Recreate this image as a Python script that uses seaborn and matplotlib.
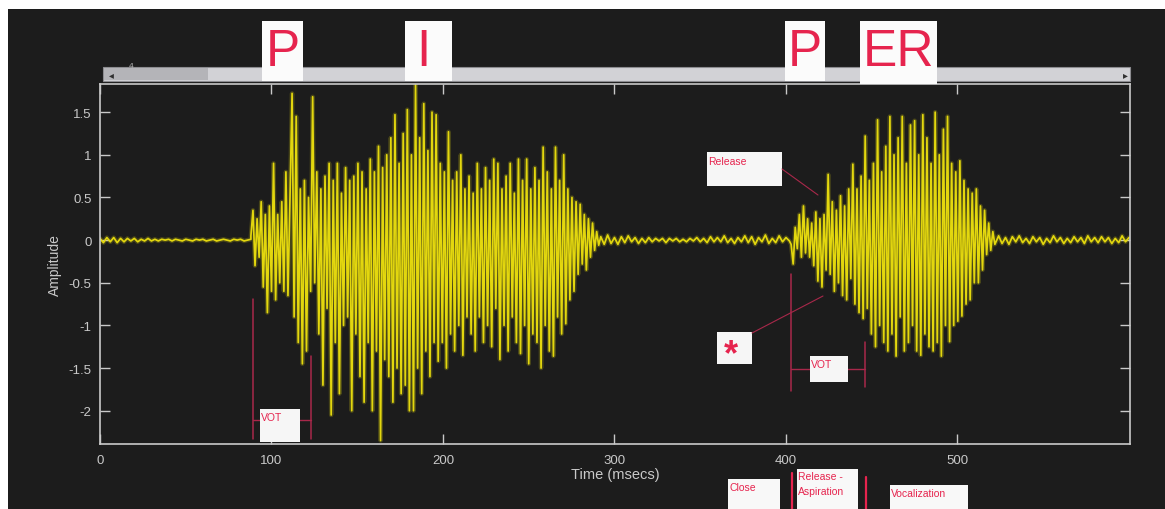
import numpy as np
import pandas as pd
import matplotlib
matplotlib.use("Agg")
import matplotlib.pyplot as plt
from matplotlib.patches import Rectangle
from matplotlib.lines import Line2D
import seaborn as sns

# ---------------- data ----------------
quiet1_start, quiet1_step = 0.0, 2.0
quiet1_amp = [0.02, -0.03, 0.03, -0.02, 0.03, -0.03, 0.02, -0.02, 0.02, -0.01,
              0.02, -0.02, 0.01, -0.01, 0.02, -0.01, 0.01, -0.01, 0.01, 0.0,
              0.01, -0.01, 0.01, 0.0, -0.01, 0.01, 0.0, -0.01, 0.01, 0.0,
              0.01, -0.01, 0.0, 0.01, -0.01, 0.0, 0.01, 0.0, -0.01, 0.01,
              0.0, 0.01, -0.01, 0.0, 0.01]

voiced1_start, voiced1_step = 88.0, 1.2
voiced1_amp = [0.05, 0.35, -0.3, 0.25, -0.2, 0.45, -0.55, 0.3, -0.85, 0.4,
               -0.6, 0.9, -0.7, 0.3, -0.5, 0.45, -0.6, 0.8, -0.65, 0.5,
               1.72, -0.9, 1.45, -1.2, 0.6, -1.45, 0.7, -1.3, 0.5, -0.6,
               1.68, -0.5, 0.8, -1.1, 0.6, -1.7, 0.75, -0.8, 0.9, -2.05,
               0.7, -1.2, 0.9, -1.8, 0.55, -1.0, 0.85, -0.9, 0.7, -2.0,
               0.75, -1.1, 0.9, -1.6, 0.8, -1.9, 0.6, -1.2, 0.95, -2.0,
               0.8, -1.3, 1.1, -2.35, 0.85, -1.4, 1.0, -1.6, 1.2, -1.9,
               1.47, -1.5, 0.9, -1.8, 1.25, -1.7, 1.53, -2.0, 1.0, -2.0,
               1.82, -1.5, 1.2, -1.8, 1.6, -1.3, 1.05, -1.6, 1.5, -1.2,
               1.47, -1.42, 0.9, -1.2, 0.8, -1.5, 1.27, -1.1, 0.7, -1.3,
               0.8, -1.0, 1.0, -1.35, 0.6, -0.9, 0.75, -1.1, 0.55, -1.3,
               0.9, -0.9, 0.6, -1.2, 0.85, -1.0, 0.7, -1.25, 0.95, -0.8,
               0.9, -1.4, 0.6, -1.0, 0.75, -1.3, 0.9, -0.9, 0.55, -1.2,
               0.95, -1.33, 0.7, -1.0, 0.95, -1.45, 0.6, -1.1, 0.85, -1.2,
               0.7, -1.5, 1.09, -1.0, 0.8, -1.3, 0.6, -1.36, 1.09, -0.9,
               0.7, -1.1, 1.0, -0.98, 0.6, -0.7, 0.5, -0.6, 0.45, -0.4,
               0.42, -0.28, 0.3, -0.35, 0.25, -0.2, 0.2, -0.12, 0.1, -0.06]

quiet2_start, quiet2_step = 292.0, 2.0
quiet2_amp = [0.04, -0.05, 0.06, -0.04, 0.03, -0.05, 0.04, -0.03, 0.05, -0.02,
              0.03, -0.04, 0.02, -0.03, 0.03, -0.02, 0.02, -0.01, 0.02, -0.03,
              0.02, -0.01, 0.02, -0.02, 0.01, -0.02, 0.02, -0.01, 0.03, -0.02,
              0.02, -0.03, 0.04, -0.02, 0.03, -0.02, 0.05, -0.03, 0.02, -0.04,
              0.03, -0.02, 0.05, -0.03, 0.04, -0.05, 0.03, -0.02, 0.06, -0.04,
              0.02, -0.03, 0.05, -0.02, 0.03, -0.01]

voiced2_start, voiced2_step = 403.0, 1.2
voiced2_amp = [-0.05, -0.28, 0.15, -0.1, 0.3, -0.2, 0.4, -0.15, 0.25, -0.2,
               0.2, -0.3, 0.33, -0.48, 0.25, -0.55, 0.3, -0.35, 0.77, -0.4,
               0.45, -0.6, 0.35, -0.5, 0.52, -0.65, 0.4, -0.7, 0.6, -0.45,
               0.89, -0.75, 0.6, -0.85, 0.75, -0.92, 1.22, -0.8, 0.7, -1.1,
               0.9, -1.25, 1.41, -1.0, 0.8, -1.2, 1.1, -1.3, 1.45, -1.1,
               1.0, -1.36, 1.2, -0.9, 1.45, -1.3, 0.9, -1.2, 1.35, -1.0,
               1.4, -1.3, 1.0, -1.35, 1.47, -1.1, 1.2, -1.25, 0.9, -1.3,
               1.5, -1.2, 1.0, -1.36, 1.3, -1.0, 1.45, -1.19, 0.9, -1.0,
               0.8, -0.95, 0.93, -0.89, 0.7, -0.75, 0.6, -0.7, 0.55, -0.5,
               0.6, -0.5, 0.4, -0.35, 0.35, -0.17, 0.2, -0.12, 0.1, -0.05]

quiet3_start, quiet3_step = 524.0, 2.0
quiet3_amp = [0.05, -0.04, 0.03, -0.05, 0.04, -0.02, 0.05, -0.03, 0.02, -0.04,
              0.04, -0.02, 0.03, -0.05, 0.02, -0.03, 0.05, -0.02, 0.03, -0.04,
              0.02, -0.03, 0.04, -0.02, 0.03, -0.04, 0.05, -0.02, 0.03, -0.03,
              0.04, -0.02, 0.03, -0.04, 0.02, -0.03, 0.05, -0.02, 0.03]

x_ticks = [0, 100, 200, 300, 400, 500]
x_tick_labels = ["0", "100", "200", "300", "400", "500"]
y_ticks = [-2, -1.5, -1, -0.5, 0, 0.5, 1, 1.5]
y_tick_labels = ["-2", "-1.5", "-1", "-0.5", "0", "0.5", "1", "1.5"]
syllables = ["P", "I", "P", "ER"]

# ---------------- build the waveform table ----------------
segments = [(quiet1_start, quiet1_step, quiet1_amp),
            (voiced1_start, voiced1_step, voiced1_amp),
            (quiet2_start, quiet2_step, quiet2_amp),
            (voiced2_start, voiced2_step, voiced2_amp),
            (quiet3_start, quiet3_step, quiet3_amp)]
t_all, a_all = [], []
for start, step, amps in segments:
    t_all.extend(start + step * np.arange(len(amps)))
    a_all.extend(amps)
df = pd.DataFrame({"time": t_all, "amp": a_all})

# ---------------- figure ----------------
W, H = 1165, 510
BG = "#1c1c1c"
FG = "#c9c9c9"
RED = "#e6244e"
YEL = "#e3d70e"

sns.set_theme(style="dark")
plt.rcParams["font.family"] = ["Liberation Sans", "DejaVu Sans"]

fig = plt.figure(figsize=(W / 100, H / 100), dpi=100, facecolor="white")


def fx(x):
    return x / W


def fy(y):
    return 1 - y / H


def px_rect(x0, y0, x1, y1, **kw):
    r = Rectangle((fx(x0), fy(y1)), (x1 - x0) / W, (y1 - y0) / H,
                  transform=fig.transFigure, **kw)
    fig.add_artist(r)


def px_line(xs, ys, **kw):
    fig.add_artist(Line2D([fx(x) for x in xs], [fy(y) for y in ys],
                          transform=fig.transFigure, **kw))


def px_text(x, y, s, **kw):
    fig.text(fx(x), fy(y), s, **kw)


# dark scanned background
px_rect(8, 10, W + 2, H + 2, facecolor=BG, edgecolor="none", zorder=-10)

ax = fig.add_axes([fx(100), fy(445), (1130 - 100) / W, (445 - 85) / H])
ax.set_facecolor(BG)

# soft glow underneath, then the crisp trace
sns.lineplot(data=df, x="time", y="amp", ax=ax, color=YEL, linewidth=3.2,
             alpha=0.22, estimator=None, sort=False)
sns.lineplot(data=df, x="time", y="amp", ax=ax, color=YEL, linewidth=1.25,
             estimator=None, sort=False)

ax.set_xlim(0, 600.6)
ax.set_ylim(-2.39, 1.83)
ax.set_xticks(x_ticks)
ax.set_xticklabels(x_tick_labels)
ax.set_yticks(y_ticks)
ax.set_yticklabels(y_tick_labels)
ax.tick_params(axis="both", direction="in", length=7, width=1.0, color=FG,
               labelcolor=FG, labelsize=9.5, top=True, right=True,
               bottom=True, left=True)
ax.tick_params(axis="x", pad=7)
ax.tick_params(axis="y", pad=6)
for sp in ax.spines.values():
    sp.set_visible(True)
    sp.set_color(FG)
    sp.set_linewidth(1.2)
ax.grid(False)
ax.set_xlabel("Time (msecs)", color=FG, fontsize=10.5, labelpad=1)
ax.set_ylabel("Amplitude", color=FG, fontsize=10, labelpad=5)

# scroll bar above the axes
px_rect(103, 68, 1130, 82, facecolor="#d2d2d6", edgecolor="#8c8c90",
        linewidth=0.8, zorder=3)
px_rect(104, 69, 208, 81, facecolor="#b4b4b8", edgecolor="none", zorder=3)
px_text(111, 75, "◂", color="#303030", fontsize=7, ha="center", va="center",
        zorder=4, family=["DejaVu Sans"])
px_text(1125, 75, "▸", color="#303030", fontsize=7, ha="center", va="center",
        zorder=4, family=["DejaVu Sans"])
px_text(131, 66, "4", color="#b0b0b0", fontsize=6, ha="center", va="center",
        zorder=4)

# syllable labels
syl_boxes = [(262, 22, 303, 82, 283), (405, 22, 452, 82, 423),
             (785, 22, 825, 82, 805), (860, 22, 937, 85, 898)]
for s, (x0, y0, x1, y1, xc) in zip(syllables, syl_boxes):
    px_rect(x0, y0, x1, y1, facecolor="#fbfbfb", edgecolor="none", zorder=5)
    px_text(xc, 52, s, color=RED, fontsize=37, ha="center", va="center",
            zorder=6)

# in-plot annotations
DRED = "#a8284a"
px_rect(707, 153, 782, 187, facecolor="#f6f6f6", edgecolor="none", zorder=5)
px_text(708, 157, "Release", color=RED, fontsize=7.5, ha="left", va="top",
        zorder=6)
px_line([782, 818], [170, 196], color=DRED, linewidth=0.8, zorder=5)

px_rect(717, 333, 752, 365, facecolor="#f6f6f6", edgecolor="none", zorder=5)
px_text(731, 356, "*", color=RED, fontsize=26, fontweight="bold",
        ha="center", va="center", zorder=6)
px_line([752, 823], [334, 297], color=DRED, linewidth=0.8, zorder=5)

# VOT brackets
px_line([253, 253], [300, 440], color=DRED, linewidth=1.1, zorder=5)
px_line([311, 311], [357, 440], color=DRED, linewidth=1.1, zorder=5)
px_line([253, 311], [421, 421], color=DRED, linewidth=1.0, zorder=5)
px_rect(260, 410, 300, 443, facecolor="#f6f6f6", edgecolor="none", zorder=6)
px_text(261, 413, "VOT", color=RED, fontsize=7.5, ha="left", va="top",
        zorder=7)

px_line([791, 791], [275, 392], color=DRED, linewidth=1.1, zorder=5)
px_line([865, 865], [343, 388], color=DRED, linewidth=1.1, zorder=5)
px_line([791, 865], [370, 370], color=DRED, linewidth=1.0, zorder=5)
px_rect(810, 357, 848, 383, facecolor="#f6f6f6", edgecolor="none", zorder=6)
px_text(811, 360, "VOT", color=RED, fontsize=7.5, ha="left", va="top",
        zorder=7)

# bottom phase labels
px_rect(728, 480, 780, 512, facecolor="#f8f8f8", edgecolor="none", zorder=5)
px_text(729, 483, "Close", color=RED, fontsize=7.5, ha="left", va="top",
        zorder=6)
px_line([792, 792], [474, 512], color=RED, linewidth=1.6, zorder=5)
px_rect(797, 470, 858, 512, facecolor="#f8f8f8", edgecolor="none", zorder=5)
px_text(798, 472, "Release -\nAspiration", color=RED, fontsize=7.5,
        ha="left", va="top", linespacing=1.6, zorder=6)
px_line([866, 866], [478, 512], color=RED, linewidth=1.6, zorder=5)
px_rect(890, 486, 968, 512, facecolor="#f8f8f8", edgecolor="none", zorder=5)
px_text(891, 489, "Vocalization", color=RED, fontsize=7.5, ha="left",
        va="top", zorder=6)

fig.savefig("out.png", dpi=100, facecolor="white")
